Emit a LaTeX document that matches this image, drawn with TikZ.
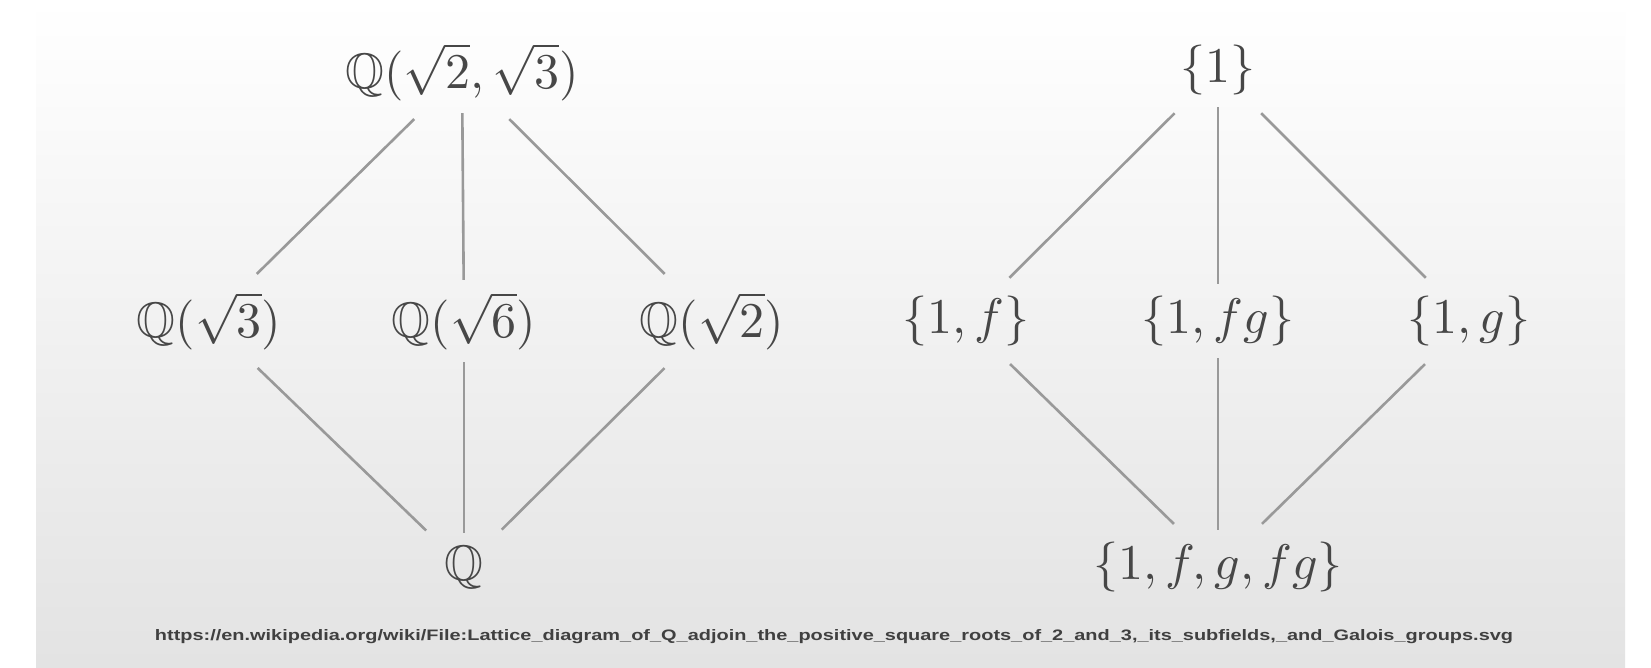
\documentclass[tikz,border=0pt]{standalone}
\usepackage{amssymb}
\usepackage{graphicx}
\usepackage{fontspec}
\newfontfamily\urlfont{Liberation Sans}
\newcommand{\biglbl}[1]{\scalebox{5}{$#1$}}
\begin{document}
\begin{tikzpicture}[x=1pt,y=-1pt,
  lbl/.style={inner sep=6pt, text=black!72},
  edge/.style={draw=black!40, line width=2.6pt, shorten >=6pt, shorten <=6pt},
  diag/.style={edge, shorten >=17pt, shorten <=17pt}]
\useasboundingbox (0,0) rectangle (1651,667);
\fill[white] (0,0) rectangle (1651,667);
\shade[top color=white, bottom color=black!11] (36,0) rectangle (1625,667);
% left lattice
\node[lbl] (q23) at (462,72) {\biglbl{\mathbb{Q}(\sqrt{2},\sqrt{3})}};
\node[lbl] (q3) at (209,321) {\biglbl{\mathbb{Q}(\sqrt{3})}};
\node[lbl] (q6) at (464,321) {\biglbl{\mathbb{Q}(\sqrt{6})}};
\node[lbl] (q2) at (712,321) {\biglbl{\mathbb{Q}(\sqrt{2})}};
\node[lbl] (q) at (464,567) {\biglbl{\mathbb{Q}}};
% right lattice
\node[lbl] (g1) at (1218,70) {\biglbl{\{1\}}};
\node[lbl] (gf) at (966,321) {\biglbl{\{1,f\}}};
\node[lbl] (gfg) at (1218,321) {\biglbl{\{1,fg\}}};
\node[lbl] (gg) at (1469,321) {\biglbl{\{1,g\}}};
\node[lbl] (gall) at (1218,567) {\biglbl{\{1,f,g,fg\}}};
% edges
\draw[diag] (q23) -- (q3);
\draw[edge] (q23) -- (q6);
\draw[diag] (q23) -- (q2);
\draw[diag] (q3) -- (q);
\draw[edge] (q6) -- (q);
\draw[diag] (q2) -- (q);
\draw[diag] (g1) -- (gf);
\draw[edge] (g1) -- (gfg);
\draw[diag] (g1) -- (gg);
\draw[diag] (gf) -- (gall);
\draw[edge] (gfg) -- (gall);
\draw[diag] (gg) -- (gall);
% source line
\node[inner sep=0pt, text=black!75] (src) at (834,637) {\resizebox{1358pt}{11pt}{\urlfont\bfseries https://en.wikipedia.org/wiki/File:Lattice\_diagram\_of\_Q\_adjoin\_the\_positive\_square\_roots\_of\_2\_and\_3,\_its\_subfields,\_and\_Galois\_groups.svg}};
\end{tikzpicture}
\end{document}
